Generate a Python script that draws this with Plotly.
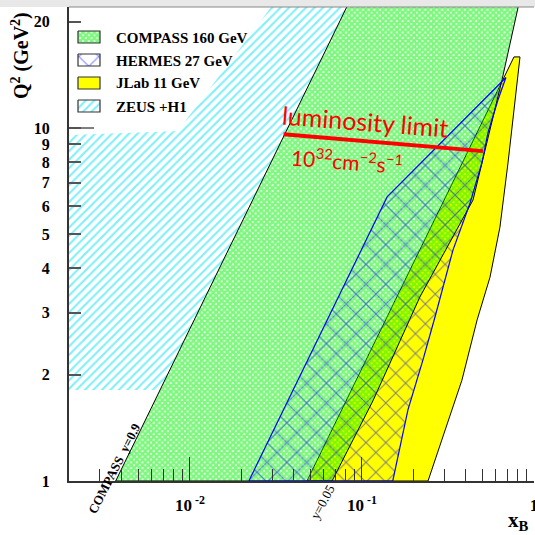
import plotly.graph_objects as go

# ---------------- data (x_B, Q^2 in GeV^2) ----------------
zeus_x = [0.0019, 0.0067, 0.0852, 0.0317, 0.0085, 0.0019]
zeus_q2 = [1.81, 1.81, 23.0, 23.0, 9.8, 9.55]

jlab_x = [0.0479, 0.765, 0.829, 0.706, 0.634, 0.555, 0.467, 0.381, 0.242]
jlab_q2 = [1.0, 15.9, 15.9, 7.96, 5.24, 3.78, 2.86, 1.93, 1.0]

compass_x = [0.0037, 0.0852, 0.82, 0.807, 0.652, 0.442, 0.217, 0.116, 0.067]
compass_q2 = [1.0, 23.0, 23.0, 21.9, 13.7, 6.25, 3.32, 1.69, 1.0]

hermes_x = [0.022, 0.140, 0.687, 0.617, 0.540, 0.498, 0.425, 0.338, 0.266, 0.226, 0.185, 0.151]
hermes_q2 = [1.0, 6.38, 13.9, 12.0, 9.68, 7.96, 6.13, 4.51, 2.92, 2.20, 1.59, 1.0]

lumi_x = [0.035, 0.505]
lumi_q2 = [9.6, 8.6]

legend_names = ["COMPASS 160 GeV", "HERMES 27 GeV", "JLab 11 GeV", "ZEUS +H1"]

x_tickvals = [0.01, 0.1, 1]
x_ticktext = ["10<sup> -2</sup>", "10<sup> -1</sup>", "1"]
x_minor = [0.002, 0.003, 0.004, 0.005, 0.006, 0.007, 0.008, 0.009,
           0.02, 0.03, 0.04, 0.05, 0.06, 0.07, 0.08, 0.09,
           0.2, 0.3, 0.4, 0.5, 0.6, 0.7, 0.8, 0.9]
y_tickvals = [1, 2, 3, 4, 5, 6, 7, 8, 9, 10, 20]
y_ticktext = [str(v) for v in y_tickvals]


def closed(a):
    return list(a) + [a[0]]


# ---------------- styles ----------------
CYAN = "#00e0f0"
GREEN = "#00f000"
BLUE = "#0000ff"
YELLOW = "#ffff00"
SERIF = "Liberation Serif"

W, H = 535, 535
ML, MR, MT, MB = 69, 1, 7, 54
PW, PH = W - ML - MR, H - MT - MB


def px(xp):   # page pixel -> paper x
    return (xp - ML) / PW


def py(yp):   # page pixel -> paper y
    return (H - MB - yp) / PH


styles = {
    "COMPASS": dict(fillpattern=dict(shape="x", fgcolor=GREEN, size=4, solidity=0.85),
                    line=dict(color="black", width=1)),
    "HERMES": dict(fillpattern=dict(shape="x", fgcolor=BLUE, size=14, solidity=0.14),
                   line=dict(color=BLUE, width=1.2)),
    "JLab": dict(fillcolor=YELLOW, line=dict(color="black", width=1)),
    "ZEUS": dict(fillpattern=dict(shape="/", fgcolor=CYAN, size=6, solidity=0.35),
                 line=dict(width=0)),
}

fig = go.Figure()

# regions (draw order: ZEUS, JLab, COMPASS, HERMES)
for key, xs, ys in [("ZEUS", zeus_x, zeus_q2), ("JLab", jlab_x, jlab_q2),
                    ("COMPASS", compass_x, compass_q2), ("HERMES", hermes_x, hermes_q2)]:
    st = styles[key]
    kw = dict(x=closed(xs), y=closed(ys), mode="lines", fill="toself",
              showlegend=False, hoverinfo="skip", line=st["line"])
    if "fillpattern" in st:
        kw["fillpattern"] = st["fillpattern"]
        kw["fillcolor"] = "rgba(0,0,0,0)"
    else:
        kw["fillcolor"] = st["fillcolor"]
    fig.add_trace(go.Scatter(**kw))

# luminosity limit line
fig.add_trace(go.Scatter(x=lumi_x, y=lumi_q2, mode="lines",
                         line=dict(color="red", width=4), showlegend=False, hoverinfo="skip"))


def note(xp, yp, text, size, family=SERIF, color="black", angle=0, weight="normal",
         xanchor="center"):
    fig.add_annotation(x=px(xp), y=py(yp), xref="paper", yref="paper", text=text,
                       showarrow=False, textangle=angle, xanchor=xanchor, yanchor="middle",
                       font=dict(family=family, size=size, color=color, weight=weight))


# ---------------- manual legend on a pixel-coordinate overlay ----------------
sw_x0, sw_x1 = 78, 100
sw_tops = [31, 54, 77, 100]
sw_h = 12
for key, top, name in zip(["COMPASS", "HERMES", "JLab", "ZEUS"], sw_tops, legend_names):
    st = styles[key]
    kw = dict(x=[sw_x0, sw_x1, sw_x1, sw_x0, sw_x0],
              y=[top, top, top + sw_h, top + sw_h, top],
              xaxis="x2", yaxis="y2", mode="lines", fill="toself",
              line=dict(color="#333333", width=1.2), showlegend=False, hoverinfo="skip")
    if "fillpattern" in st:
        kw["fillpattern"] = st["fillpattern"]
        kw["fillcolor"] = "white"
    else:
        kw["fillcolor"] = st["fillcolor"]
    fig.add_trace(go.Scatter(**kw))
    note(114, top + sw_h / 2 + 0.5, name, 15, weight="bold", xanchor="left")

# ---------------- text annotations ----------------
note(365, 121, "luminosity limit", 25, family="Lato", color="red", angle=4.5)
note(347, 160, "10<sup>32</sup>cm<sup>\u22122</sup>s<sup>\u22121</sup>", 21,
     family="Lato", color="red", angle=4.5)
note(114, 468, "COMPASS  y=0.9", 13, angle=-63, weight="bold")
note(322, 502, "y=0.05", 13, angle=-62)
# axis titles
note(21, 56, "Q<sup>2</sup> (GeV<sup>2</sup>)", 20, angle=-90, weight="bold")
note(518, 521, "x<sub>B</sub>", 21, weight="bold")

# long tick at Q^2 = 10
fig.add_shape(type="line", xref="x2", yref="y", x0=69, x1=94, y0=10, y1=10,
              line=dict(color="#555555", width=1.5))
# frame top / page top band
fig.add_shape(type="line", xref="paper", yref="paper", x0=0, x1=1, y0=1, y1=1,
              line=dict(color="#888888", width=1))
fig.add_shape(type="rect", xref="paper", yref="paper", x0=px(0), x1=px(W), y0=py(7), y1=py(0),
              fillcolor="#e8e8e8", line=dict(width=0), layer="below")

fig.update_layout(
    width=W, height=H,
    margin=dict(l=ML, r=MR, t=MT, b=MB, autoexpand=False),
    paper_bgcolor="white", plot_bgcolor="white",
    showlegend=False,
    xaxis=dict(type="log", range=[-2.703, 0], showgrid=False, zeroline=False, automargin=False,
               tickvals=x_tickvals, ticktext=x_ticktext, ticks="inside", ticklen=24,
               tickwidth=1, tickcolor="#333333", ticklabelstandoff=8, ticklabeloverflow="allow",
               tickfont=dict(family=SERIF, size=17, color="black", weight="bold"),
               minor=dict(tickvals=x_minor, ticks="inside", ticklen=12, tickwidth=1,
                          tickcolor="#333333", showgrid=False),
               showline=True, linecolor="#333333", linewidth=2, fixedrange=True),
    yaxis=dict(type="log", range=[0, 1.3428], showgrid=False, zeroline=False, automargin=False,
               tickvals=y_tickvals, ticktext=y_ticktext, ticks="inside", ticklen=12,
               tickwidth=1.5, tickcolor="#555555", ticklabelstandoff=14,
               ticklabeloverflow="allow",
               tickfont=dict(family=SERIF, size=16, color="black", weight="bold"),
               showline=True, linecolor="#333333", linewidth=2, fixedrange=True),
    xaxis2=dict(overlaying="x", anchor="y2", range=[69, 534], visible=False, fixedrange=True),
    yaxis2=dict(overlaying="y", anchor="x2", range=[481, 7], visible=False, fixedrange=True),
)

fig.write_html("out.html", config={"displayModeBar": False},
               post_script="document.body.style.margin='0';document.body.style.overflow='hidden';")
